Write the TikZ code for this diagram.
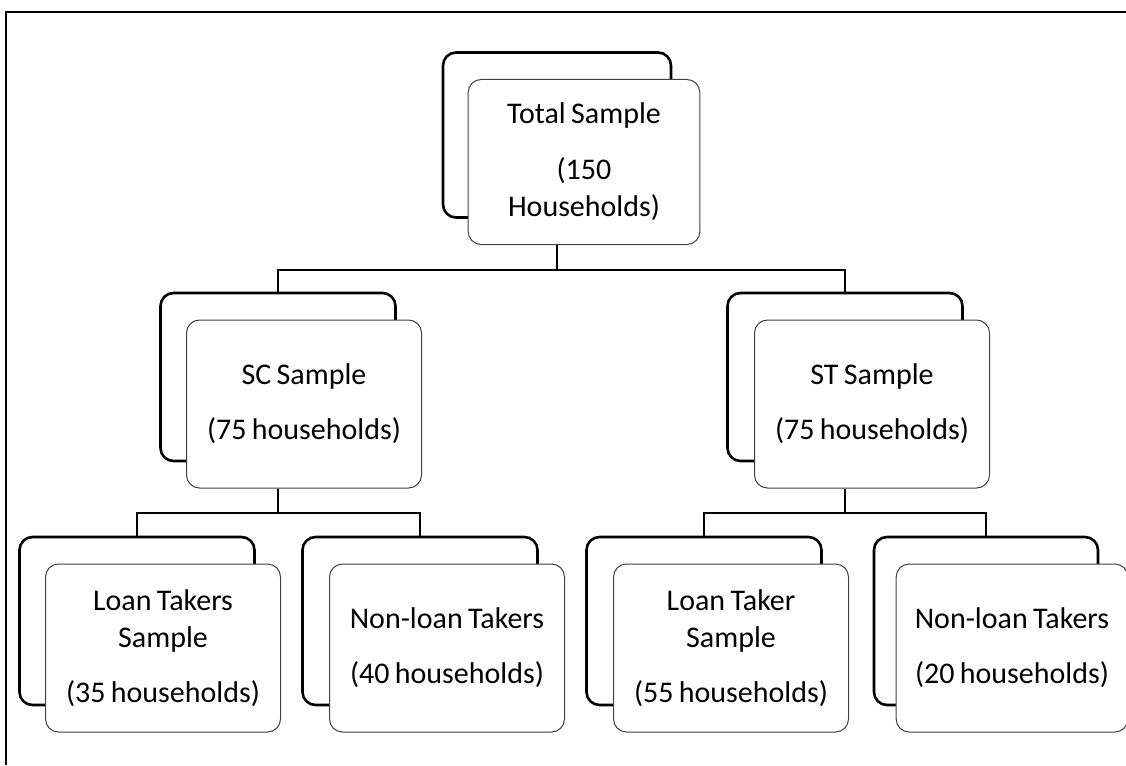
\documentclass[tikz,border=0pt]{standalone}
\usepackage{fontspec}
\setmainfont{Carlito}[WordSpace=0.8]

\begin{document}
\begin{tikzpicture}[x=1pt,y=-1pt,
    backbox/.style={draw,line width=2.6pt,rounded corners=13pt,fill=white,
      minimum width=235pt,minimum height=168pt},
    frontbox/.style={draw=black!75,line width=1pt,rounded corners=13pt,fill=white,
      minimum width=235pt,minimum height=168pt,text width=225pt,align=flush center,
      font=\fontsize{30}{37}\selectfont},
    link/.style={line width=1.6pt}]
    \clip (0,0) rectangle (1126,765);
    \fill[white] (0,0) rectangle (1126,765);
    \draw[line width=1.5pt] (6,765) -- (6,12) -- (1126,12);

    \node[backbox,minimum width=228pt,minimum height=165pt] (total-b) at (557,135) {};
    \node[frontbox,minimum width=228pt,minimum height=165pt] (total) at (584,162)
    {Total Sample\\[19pt](150\\Households)};

    \node[backbox] (sc-b) at (278,377) {};
    \node[frontbox] (sc) at (304,404) {SC Sample\\[18pt](75 households)};

    \node[backbox] (st-b) at (845,377) {};
    \node[frontbox] (st) at (872,404) {ST Sample\\[18pt](75 households)};

    \node[backbox] (sc-loan-b) at (137,621) {};
    \node[frontbox] (sc-loan) at (163,648) {Loan Takers\\Sample\\[18pt](35 households)};

    \node[backbox] (sc-non-b) at (420,621) {};
    \node[frontbox] (sc-non) at (447,648) {Non-loan Takers\\[18pt](40 households)};

    \node[backbox] (st-loan-b) at (704,621) {};
    \node[frontbox] (st-loan) at (731,648) {Loan Taker\\Sample\\[18pt](55 households)};

    \node[backbox,minimum width=224pt] (st-non-b) at (986,621) {};
    \node[frontbox,minimum width=224pt] (st-non) at (1012,648)
    {Non-loan Takers\\[18pt](20 households)};

    % connectors
    \coordinate (bus-top) at (0,270);
    \coordinate (bus-sc) at (0,513);
    \coordinate (bus-st) at (0,513);

    \draw[link] (total.south -| total-b) -- (total-b |- bus-top);
    \draw[link] (sc-b.north) |- (st-b.north |- bus-top) -- (st-b.north);

    \draw[link] (sc.south -| sc-b) -- (sc-b |- bus-sc);
    \draw[link] (sc-loan-b.north) |- (sc-non-b.north |- bus-sc) -- (sc-non-b.north);

    \draw[link] (st.south -| st-b) -- (st-b |- bus-st);
    \draw[link] (st-loan-b.north) |- (st-non-b.north |- bus-st) -- (st-non-b.north);
\end{tikzpicture}
\end{document}
